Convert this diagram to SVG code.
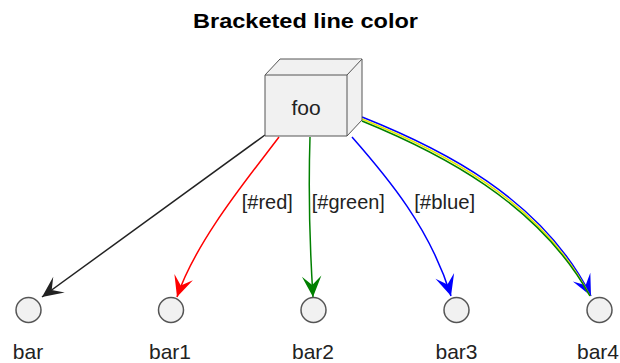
<svg xmlns="http://www.w3.org/2000/svg" width="620" height="363" viewBox="0 0 620 363">
<style>
.t{font-family:"Liberation Sans",Arial,sans-serif;fill:#000}
.title{font-weight:bold;font-size:21px}
.lbl{font-size:20px;fill:#222}
.name{font-size:21px;fill:#222}
.circ{fill:#F1F1F1;stroke:#555;stroke-width:1.5}
.box{fill:#F1F1F1;stroke:#555;stroke-width:1;stroke-linejoin:round}
.e{fill:none;stroke-width:1.5}
</style>
<defs>
<marker id="ak" markerUnits="userSpaceOnUse" markerWidth="30" markerHeight="30" refX="0" refY="0" viewBox="-16 -10 20 20" orient="auto"><path d="M0,0 L-14,-6.5 L-8,0 L-14,6.5 Z" fill="#222"/></marker>
<marker id="ar" markerUnits="userSpaceOnUse" markerWidth="30" markerHeight="30" refX="0" refY="0" viewBox="-16 -10 20 20" orient="auto"><path d="M0,0 L-14,-6.5 L-8,0 L-14,6.5 Z" fill="#FF0000"/></marker>
<marker id="ag" markerUnits="userSpaceOnUse" markerWidth="30" markerHeight="30" refX="0" refY="0" viewBox="-16 -10 20 20" orient="auto"><path d="M0,0 L-14,-6.5 L-8,0 L-14,6.5 Z" fill="#008000"/></marker>
<marker id="ab" markerUnits="userSpaceOnUse" markerWidth="30" markerHeight="30" refX="0" refY="0" viewBox="-16 -10 20 20" orient="auto"><path d="M0,0 L-14,-6.5 L-8,0 L-14,6.5 Z" fill="#0000FF"/></marker>
</defs>
<rect width="620" height="363" fill="#FFFFFF"/>
<text class="t title" x="305.5" y="28" text-anchor="middle" textLength="225" lengthAdjust="spacingAndGlyphs">Bracketed line color</text>

<g id="connectors">
<path class="e" stroke="#222" d="M265,135 L42,297" marker-end="url(#ak)"/>
<path class="e" stroke="#FF0000" d="M279,137 C252,173 196,240 177,297" marker-end="url(#ar)"/>
<path class="e" stroke="#008000" d="M310,137 C308,200 310,250 313,297" marker-end="url(#ag)"/>
<path class="e" stroke="#0000FF" d="M352,137 C388,178 430,228 451,296" marker-end="url(#ab)"/>
<path class="e" stroke="#0000FF" d="M362,117 C440,148 542,198 591,296" marker-end="url(#ab)"/>
<path class="e" stroke="#E8E800" d="M362,119 C439,150 540,200 590,296"/>
<path class="e" stroke="#008000" d="M362,121 C438,152 538,202 590,296"/>
<text class="t lbl" x="267.3" y="209" text-anchor="middle" textLength="51" lengthAdjust="spacingAndGlyphs">[#red]</text>
<text class="t lbl" x="348.3" y="209" text-anchor="middle" textLength="73" lengthAdjust="spacingAndGlyphs">[#green]</text>
<text class="t lbl" x="444.7" y="209" text-anchor="middle" textLength="61" lengthAdjust="spacingAndGlyphs">[#blue]</text>
</g>

<g id="foo">
<path class="box" d="M265,75 L280,59 L362,59 L362,120 L347,136 L265,136 Z"/>
<path class="box" d="M265,75 L347,75 L362,59 M347,75 L347,136" fill="none"/>
<text class="t name" x="306" y="115" text-anchor="middle">foo</text>
</g>

<g id="bar">
<circle class="circ" cx="28.5" cy="310" r="12.5"/>
<text class="t name" x="28" y="359" text-anchor="middle">bar</text>
</g>
<g id="bar1">
<circle class="circ" cx="171" cy="310" r="12.5"/>
<text class="t name" x="170" y="359" text-anchor="middle">bar1</text>
</g>
<g id="bar2">
<circle class="circ" cx="313.5" cy="310" r="12.5"/>
<text class="t name" x="313" y="359" text-anchor="middle">bar2</text>
</g>
<g id="bar3">
<circle class="circ" cx="456.5" cy="310" r="12.5"/>
<text class="t name" x="456.5" y="359" text-anchor="middle">bar3</text>
</g>
<g id="bar4">
<circle class="circ" cx="599.5" cy="310" r="12.5"/>
<text class="t name" x="598" y="359" text-anchor="middle">bar4</text>
</g>
</svg>
